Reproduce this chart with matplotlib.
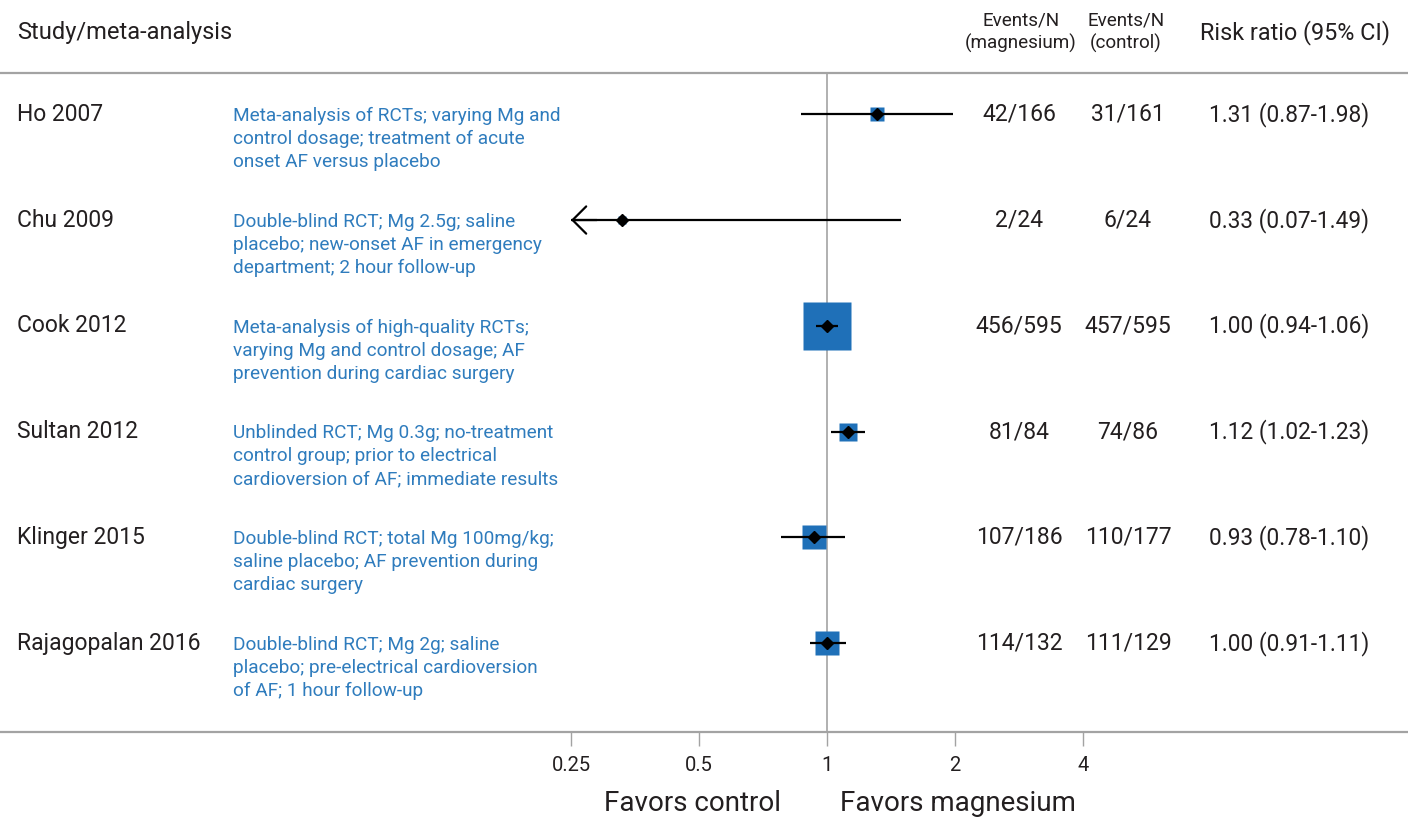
import matplotlib

matplotlib.use("Agg")
import matplotlib.pyplot as plt
import matplotlib.transforms as mtransforms

plt.rcParams["font.family"] = ["Roboto", "DejaVu Sans"]

studies = ["Ho 2007", "Chu 2009", "Cook 2012", "Sultan 2012", "Klinger 2015", "Rajagopalan 2016"]
descriptions = [
    "Meta-analysis of RCTs; varying Mg and\ncontrol dosage; treatment of acute\nonset AF versus placebo",
    "Double-blind RCT; Mg 2.5g; saline\nplacebo; new-onset AF in emergency\ndepartment; 2 hour follow-up",
    "Meta-analysis of high-quality RCTs;\nvarying Mg and control dosage; AF\nprevention during cardiac surgery",
    "Unblinded RCT; Mg 0.3g; no-treatment\ncontrol group; prior to electrical\ncardioversion of AF; immediate results",
    "Double-blind RCT; total Mg 100mg/kg;\nsaline placebo; AF prevention during\ncardiac surgery",
    "Double-blind RCT; Mg 2g; saline\nplacebo; pre-electrical cardioversion\nof AF; 1 hour follow-up",
]
events_mg = ["42/166", "2/24", "456/595", "81/84", "107/186", "114/132"]
events_ctrl = ["31/161", "6/24", "457/595", "74/86", "110/177", "111/129"]
rr = [1.31, 0.33, 1.00, 1.12, 0.93, 1.00]
ci_lo = [0.87, 0.07, 0.94, 1.02, 0.78, 0.91]
ci_hi = [1.98, 1.49, 1.06, 1.23, 1.10, 1.11]
# relative weight (box area scale)
weights = [0.09, 0.03, 1.0, 0.16, 0.26, 0.24]

ticks = [0.25, 0.5, 1, 2, 4]
tick_labels = ["0.25", "0.5", "1", "2", "4"]
clip_lo = 0.25

BLUE_BOX = "#1f70b8"
BLUE_TXT = "#2f7cbd"
GREY = "#a3a3a3"
INK = "#231f20"

W, H = 1408, 821
fig = plt.figure(figsize=(W / 100, H / 100), dpi=100)
ax = fig.add_axes([0, (H - 732) / H, 1, 659 / H])

ax.set_xscale("log", base=2)
ax.set_xlim(2 ** (-827 / 128), 2 ** (581 / 128))
n = len(studies)
ax.set_ylim(n - 1 + 0.84, -0.39)

ax.axvline(1, color=GREY, lw=1.2, zorder=1)

max_ms = 34
for i in range(n):
    lo = max(ci_lo[i], clip_lo)
    ax.plot([lo, ci_hi[i]], [i, i], color="black", lw=1.6, zorder=3, solid_capstyle="butt")
    if ci_lo[i] < clip_lo:
        ax.annotate("", xy=(clip_lo, i), xytext=(clip_lo * 1.15, i),
                    arrowprops=dict(arrowstyle="->, head_length=0.7, head_width=0.7",
                                    lw=1.6, color="black", mutation_scale=14, shrinkA=0, shrinkB=0),
                    zorder=3)
    ax.plot(rr[i], i, marker="s", ms=max(max_ms * weights[i] ** 0.5, 5.5), color=BLUE_BOX,
            mec="none", zorder=2)
    ax.plot(rr[i], i, marker="D", ms=6.5, color="black", zorder=4)

for side in ("left", "right"):
    ax.spines[side].set_visible(False)
for side in ("top", "bottom"):
    ax.spines[side].set_color(GREY)
    ax.spines[side].set_linewidth(1.6)

ax.set_yticks([])
ax.set_xticks(ticks)
ax.set_xticklabels(tick_labels, fontsize=14.5)
ax.minorticks_off()
ax.tick_params(axis="x", which="major", length=10, width=1, color=GREY, pad=7, labelcolor=INK)
ax.patch.set_alpha(0)

row_tr = mtransforms.blended_transform_factory(fig.transFigure, ax.transData)
for i in range(n):
    ax.text(17 / W, i, studies[i], transform=row_tr, ha="left", va="center", fontsize=16.5, color=INK)
    ax.text(233 / W, i + 0.235, descriptions[i], transform=row_tr, ha="left", va="center",
            fontsize=13.7, color=BLUE_TXT, linespacing=1.36)
    ax.text(1019 / W, i, events_mg[i], transform=row_tr, ha="center", va="center", fontsize=16.5, color=INK)
    ax.text(1128 / W, i, events_ctrl[i], transform=row_tr, ha="center", va="center", fontsize=16.5, color=INK)
    ax.text(1289 / W, i, f"{rr[i]:.2f} ({ci_lo[i]:.2f}-{ci_hi[i]:.2f})", transform=row_tr,
            ha="center", va="center", fontsize=16.3, color=INK)


def fy(px):
    return 1 - px / H


fig.text(17 / W, fy(33), "Study/meta-analysis", ha="left", va="center", fontsize=17, color=INK)
fig.text(1021 / W, fy(32), "Events/N\n(magnesium)", ha="center", va="center", fontsize=13.6, color=INK,
         linespacing=1.3)
fig.text(1126 / W, fy(32), "Events/N\n(control)", ha="center", va="center", fontsize=13.6, color=INK,
         linespacing=1.3)
fig.text(1295 / W, fy(33), "Risk ratio (95% CI)", ha="center", va="center", fontsize=16.8, color=INK)

fig.text(781 / W, fy(803), "Favors control", ha="right", va="center", fontsize=20, color=INK)
fig.text(840 / W, fy(803), "Favors magnesium", ha="left", va="center", fontsize=20, color=INK)

fig.savefig("out.png", dpi=100)
